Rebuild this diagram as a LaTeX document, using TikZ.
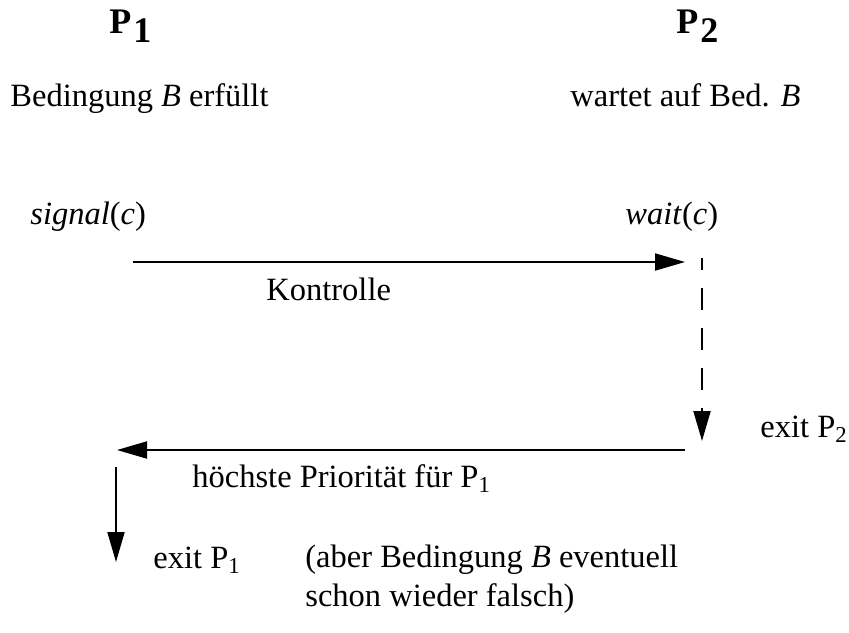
\documentclass[tikz,border=0pt]{standalone}
\usepackage{fontspec}
\setmainfont{Liberation Serif}
\usetikzlibrary{arrows.meta}
\begin{document}
\begin{tikzpicture}[x=0.5pt, y=-0.5pt]
    % Styles
    \tikzset{txt/.style={inner sep=0pt, anchor=base west, font=\fontsize{16.25}{19.5}\selectfont},
             head/.style={txt, font=\fontsize{18}{21}\selectfont\bfseries},
             flow/.style={line width=1pt, -{Triangle[length=15pt, width=8.5pt]}},
             waitline/.style={flow, dash pattern=on 11pt off 9pt, dash phase=5pt}}
    \useasboundingbox (0,0) rectangle (849,632);

    % Process headers
    \node[head] (p1) at (109, 33) {P\kern1pt\raisebox{-4.5pt}{1}};
    \node[head] (p2) at (676, 33) {P\kern1pt\raisebox{-4.5pt}{2}};

    % State of each process
    \node[txt] (cond) at (10, 106) {Bedingung \textit{B} erfüllt};
    \node[txt] (wcond) at (570, 106) {wartet auf Bed. \textit{B}};

    % Operations
    \node[txt] (sig) at (30, 224) {\textit{signal}(\textit{c})};
    \node[txt] (wt) at (625, 224) {\textit{wait}(\textit{c})};

    % Control goes from P1 to P2
    \coordinate (ctlA) at (133, 262);
    \coordinate (ctlB) at (685, 262);
    \draw[flow] (ctlA) -- (ctlB);
    \node[txt] (ctl) at (266, 300) {Kontrolle};

    % P2 runs until exit
    \coordinate (runA) at (702, 258);
    \coordinate (runB) at (702, 441);
    \draw[waitline] (runA) -- (runB);
    \node[txt] (exit2) at (760, 437) {exit P\textsubscript{2}};

    % Back to P1
    \coordinate (retA) at (685, 450);
    \coordinate (retB) at (117, 450);
    \draw[flow] (retA) -- (retB);
    \node[txt] (prio) at (192, 487) {höchste Priorität für P\textsubscript{1}};

    % P1 leaves
    \coordinate (outA) at (116, 467);
    \coordinate (outB) at (116, 562);
    \draw[flow] (outA) -- (outB);
    \node[txt] (exit1) at (153, 568) {exit P\textsubscript{1}};
    \node[txt, align=left, anchor=north west] (note) at (305, 545)
        {(aber Bedingung \textit{B} eventuell\\schon wieder falsch)};
\end{tikzpicture}
\end{document}
